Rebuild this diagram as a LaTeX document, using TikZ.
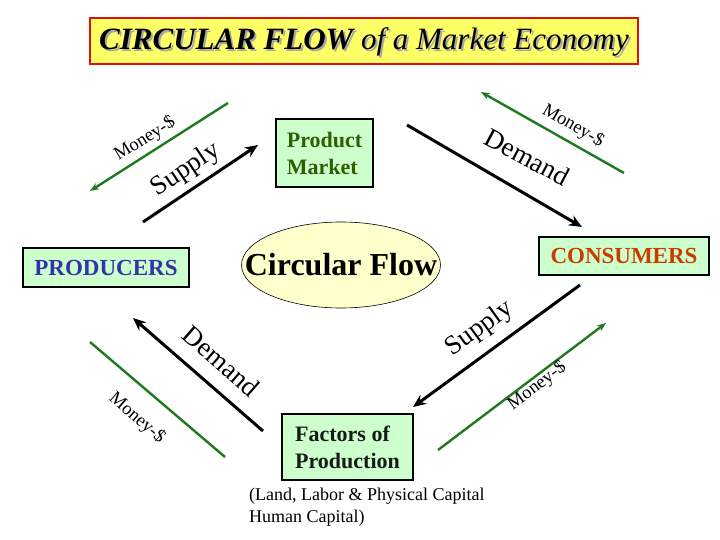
\documentclass[tikz,border=0pt]{standalone}
\usepackage{fontspec}
\setmainfont{Liberation Serif}
\usetikzlibrary{arrows.meta,shapes.geometric}
\definecolor{boxgreen}{HTML}{CCFFCC}
\definecolor{moneygreen}{HTML}{1F7A1F}
\definecolor{pmtext}{HTML}{2F5F00}
\definecolor{prodblue}{HTML}{3434A8}
\definecolor{consred}{HTML}{CC3A00}
\definecolor{titleyellow}{HTML}{FFFF66}
\definecolor{titlered}{HTML}{DD1111}
\definecolor{flowyellow}{HTML}{FFFFCC}
\begin{document}
\begin{tikzpicture}[x=1pt,y=-1pt,
  gbox/.style={draw=black, line width=1.6pt, fill=boxgreen, inner sep=3pt, align=left,
    font=\fontsize{22}{27}\selectfont\bfseries},
  flowblack/.style={draw=black, line width=3pt, -{Stealth[length=13pt,width=11pt]}},
  flowgreen/.style={draw=moneygreen, line width=2.4pt, -{Stealth[length=9pt,width=7pt]}},
  greenline/.style={draw=moneygreen, line width=2.4pt},
  moneylbl/.style={font=\fontsize{18.5}{18.5}\selectfont, inner sep=0pt},
  biglbl/.style={font=\fontsize{27}{27}\selectfont, inner sep=0pt}
]
\useasboundingbox (0,0) rectangle (720,540);

% title
\node[draw=titlered, line width=2.5pt, fill=titleyellow, minimum width=548, minimum height=46, inner sep=0pt] (title) at (364,41) {};
\node[text=gray!70, inner sep=0pt] (titleshadow) at (366,43.5) {\fontsize{31}{31}\selectfont\bfseries\itshape CIRCULAR FLOW \mdseries of a Market Economy};
\node[inner sep=0pt] (titletext) at (364,41.5) {\fontsize{31}{31}\selectfont\bfseries\itshape CIRCULAR FLOW \mdseries of a Market Economy};

% boxes
\node[gbox, text=pmtext, minimum width=97, minimum height=68] (pm) at (324.5,153) {Product\\Market};
\node[gbox, text=prodblue, minimum width=166, minimum height=39, font=\fontsize{23}{27}\selectfont\bfseries] (prod) at (106,267.5) {PRODUCERS};
\node[gbox, text=consred, minimum width=170, minimum height=38, font=\fontsize{23}{27}\selectfont\bfseries] (cons) at (624,256) {CONSUMERS};
\node[gbox, text=black!90, minimum width=131, minimum height=66] (fop) at (347.5,447) {Factors of\\Production};
\node[ellipse, draw=black, line width=0.6pt, fill=flowyellow, minimum width=199, minimum height=86, inner sep=0pt] (flow) at (341,265) {};
\node[inner sep=0pt, font=\fontsize{32}{32}\selectfont\bfseries] (flowtext) at (flow.center) {Circular Flow};
\node[anchor=north west, align=left, inner sep=0pt, font=\fontsize{18}{22}\selectfont] (sub) at (249,488)
  {(Land, Labor \& Physical Capital\\Human Capital)};

% arrow end points
\coordinate (gtlA) at (228,103); \coordinate (gtlB) at (90,191);
\coordinate (btlA) at (143,222); \coordinate (btlB) at (258,145);
\coordinate (gtrA) at (624,173); \coordinate (gtrB) at (481,92);
\coordinate (btrA) at (407,125); \coordinate (btrB) at (582,227);
\coordinate (bblA) at (263,431); \coordinate (bblB) at (133,318);
\coordinate (gblA) at (90,342);  \coordinate (gblB) at (225,457);
\coordinate (bbrA) at (580,285); \coordinate (bbrB) at (413,407);
\coordinate (gbrA) at (438,450); \coordinate (gbrB) at (606,323);

\draw[flowgreen] (gtlA) -- (gtlB);
\draw[flowblack] (btlA) -- (btlB);
\draw[flowgreen] (gtrA) -- (gtrB);
\draw[flowblack] (btrA) -- (btrB);
\draw[flowblack] (bblA) -- (bblB);
\draw[greenline] (gblA) -- (gblB);
\draw[flowblack] (bbrA) -- (bbrB);
\draw[flowgreen] (gbrA) -- (gbrB);

% labels
\node[moneylbl, rotate=32] (l1) at (145,139) {Money-\$};
\node[biglbl, rotate=34] (l2) at (186,170) {Supply};
\node[moneylbl, rotate=-30] (l3) at (573,126) {Money-\$};
\node[biglbl, rotate=-28] (l4) at (527,157) {Demand};
\node[biglbl, rotate=-41] (l5) at (221,361) {Demand};
\node[moneylbl, rotate=-41] (l6) at (137,418) {Money-\$};
\node[biglbl, rotate=36] (l7) at (480,329) {Supply};
\node[moneylbl, rotate=37] (l8) at (537,386) {Money-\$};
\end{tikzpicture}
\end{document}
